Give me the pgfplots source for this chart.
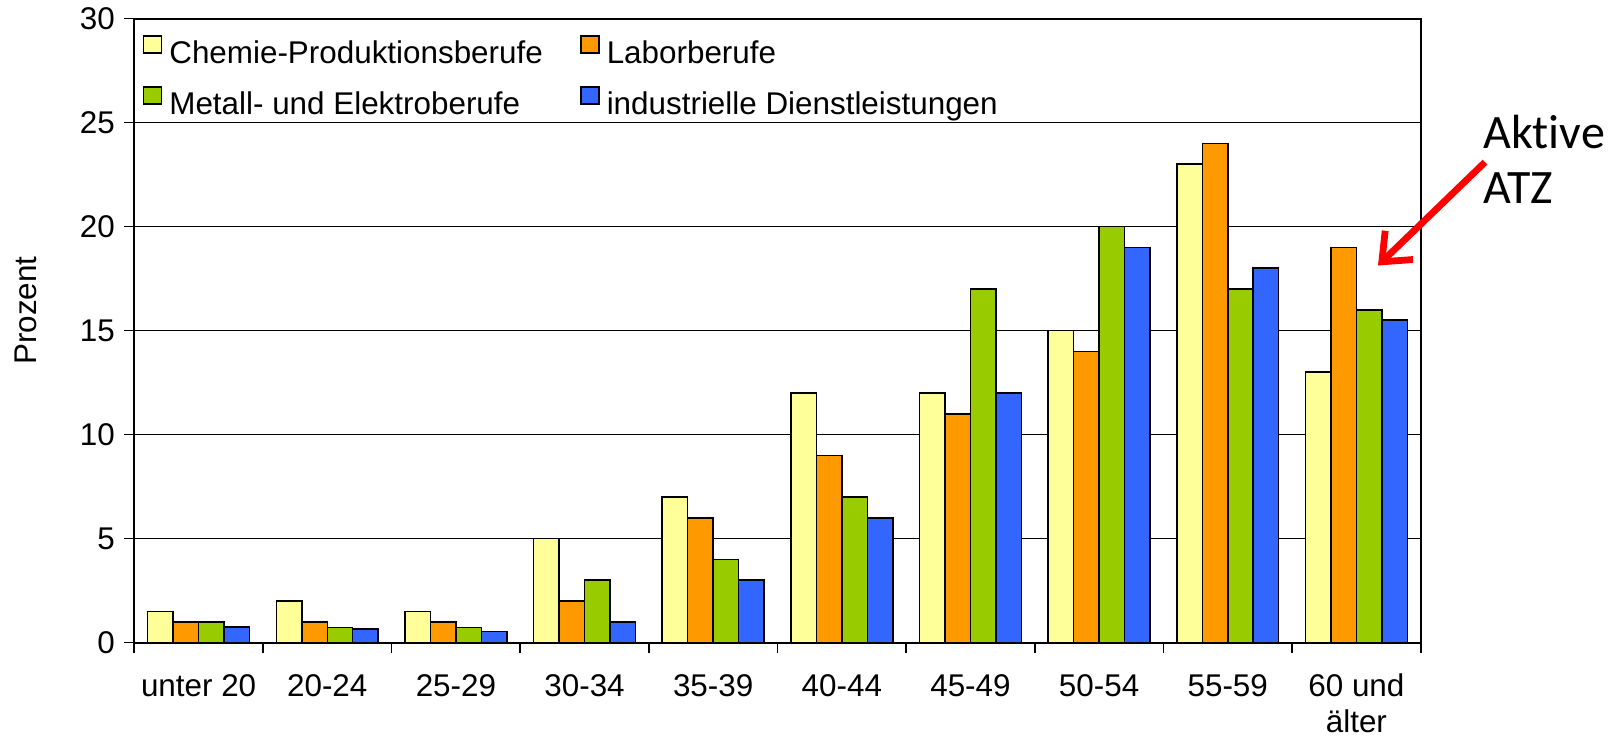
\documentclass[border=0pt]{standalone}
\usepackage{fontspec}
\setmainfont{Liberation Sans}
\newfontfamily\calibri[Ligatures=NoCommon]{Carlito}
\usepackage{pgfplots}
\pgfplotsset{compat=1.18}
\usetikzlibrary{arrows.meta}
\definecolor{cyel}{RGB}{255,255,153}
\definecolor{corg}{RGB}{255,153,0}
\definecolor{cgrn}{RGB}{153,204,0}
\definecolor{cblu}{RGB}{51,102,255}
\begin{document}
\begin{tikzpicture}
\useasboundingbox (-67.15pt,-48.65pt) rectangle (742.85pt,321.3pt);
\begin{axis}[
  at={(0,0)}, anchor=south west,
  scale only axis, width=643.2pt, height=312pt,
  xmin=-0.5, xmax=9.5, ymin=0, ymax=30,
  ytick={0,5,...,30},
  xtick={-0.5,0.5,...,9.5}, xticklabels={},
  extra x ticks={0,1,2,3,4,5,6,7,8,9},
  extra x tick labels={unter 20,20-24,25-29,30-34,35-39,40-44,45-49,50-54,55-59,{60 und\\älter}},
  extra x tick style={major tick length=0pt, grid=none},
  tick align=outside, tick pos=left,
  major tick length=5.2pt,
  tick style={black, line width=0.8pt},
  ymajorgrids=true,
  major grid style={black, line width=0.6pt},
  axis line style={black, line width=1pt},
  /pgf/number format/assume math mode=true,
  tick label style={font=\fontsize{15.7}{18}\selectfont},
  xticklabel style={align=center, yshift=-12.2pt},
  yticklabel style={xshift=-1pt},
  ylabel={Prozent},
  ylabel style={font=\fontsize{15.7}{18}\selectfont, at={(axis description cs:-0.0843,0.532)}, anchor=center, rotate=0},
  clip=false,
  legend columns=2,
  legend cell align=left,
  legend image code/.code={\draw[#1] (0pt,1.2pt) rectangle (9pt,9.8pt);},
  legend style={at={(axis description cs:0.0062,0.974)}, anchor=north west, draw=none, fill=none,
    inner sep=0pt, font=\fontsize{15.7}{18}\selectfont,
    nodes={inner sep=1pt, text height=11.5pt, text depth=3.5pt},
    row sep=6.8pt,
    /tikz/every odd column/.append style={column sep=2.6pt},
    /tikz/every even column/.append style={column sep=17.6pt}},
]
\addplot[ybar, fill=cyel, draw=black, line width=0.75pt, bar width=0.198, bar shift=-0.297] coordinates {
(0,1.5) (1,2.0) (2,1.5) (3,5) (4,7) (5,12) (6,12) (7,15) (8,23) (9,13)};
\addlegendentry{Chemie-Produktionsberufe}
\addplot[ybar, fill=corg, draw=black, line width=0.75pt, bar width=0.198, bar shift=-0.099] coordinates {
(0,1.0) (1,1.0) (2,1.0) (3,2) (4,6) (5,9) (6,11) (7,14) (8,24) (9,19)};
\addlegendentry{Laborberufe}
\addplot[ybar, fill=cgrn, draw=black, line width=0.75pt, bar width=0.198, bar shift=0.099] coordinates {
(0,1.0) (1,0.72) (2,0.72) (3,3) (4,4) (5,7) (6,17) (7,20) (8,17) (9,16)};
\addlegendentry{Metall- und Elektroberufe}
\addplot[ybar, fill=cblu, draw=black, line width=0.75pt, bar width=0.198, bar shift=0.297] coordinates {
(0,0.74) (1,0.66) (2,0.53) (3,1) (4,3) (5,6) (6,12) (7,19) (8,18) (9,15.5)};
\addlegendentry{industrielle Dienstleistungen}
\node[anchor=base west, inner sep=0pt, font=\calibri\fontsize{24}{28}\selectfont] at (axis cs:9.984,23.77) {Aktive};
\node[anchor=base west, inner sep=0pt, font=\calibri\fontsize{24}{28}\selectfont] at (axis cs:9.984,21.13) {ATZ};
\draw[red, line width=3.4pt, -{Straight Barb[length=12pt,width=20pt]}] (axis cs:10.0,23.1) -- (axis cs:9.168,18.13);
\end{axis}
\end{tikzpicture}
\end{document}
